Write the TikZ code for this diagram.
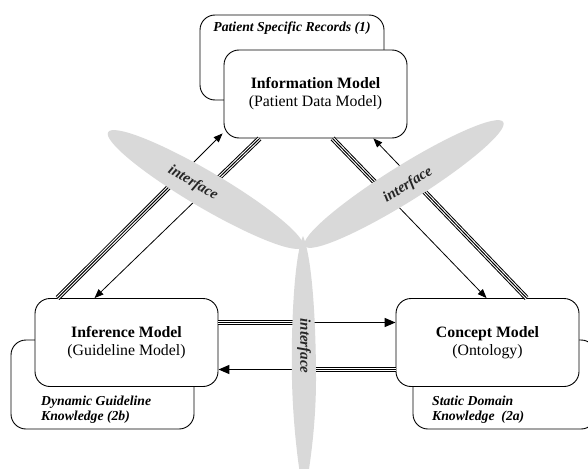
\documentclass[tikz,border=0pt]{standalone}
\usepackage{fontspec}
\setmainfont{Liberation Serif}
\usetikzlibrary{shapes.geometric,arrows.meta,calc}

\tikzset{
  model/.style={draw, fill=white, rounded corners=15pt, line width=0.9pt,
    minimum width=183pt, minimum height=88pt, inner sep=0pt, align=center,
    font=\fontsize{15.8}{18}\selectfont},
  backbox/.style={draw, fill=white, rounded corners=15pt, line width=0.9pt,
    minimum width=183pt, minimum height=89pt, inner sep=0pt},
  note/.style={font=\fontsize{13.7}{15.5}\selectfont\bfseries\itshape,
    align=left, inner sep=0pt},
  blade/.style={ellipse, fill=black!15, inner sep=0pt},
  iface/.style={font=\fontsize{15}{15}\selectfont\bfseries\itshape,
    text=black!85, inner sep=0pt},
  triple/.style={line width=1pt, preaction={draw, line width=5.2pt},
    preaction={draw, white, line width=3.2pt}},
  flow/.style={line width=0.8pt, -{Triangle[length=9pt,width=7pt]}},
  hflow/.style={line width=1.5pt, -{Triangle[length=11pt,width=9pt]}},
}

\begin{document}
\begin{tikzpicture}[x=1pt, y=-1pt]
    \useasboundingbox (0,0) rectangle (588,468);

    % knowledge boxes behind the models
    \node[backbox, minimum width=184pt, minimum height=85pt] (psr) at (292,57.5) {};
    \node[backbox] (dgk) at (102.5,384.5) {};
    \node[backbox] (sdk) at (504.5,384.5) {};
    \node[note] (psrtxt) at (292,28) {Patient Specific Records (1)};
    \node[note, anchor=west] (dgktxt) at (41,409.5) {Dynamic Guideline\\Knowledge (2b)};
    \node[note, anchor=west] (sdktxt) at (432,409.5) {Static Domain\\Knowledge\ \ (2a)};

    % models
    \node[model] (info) at (315.5,94) {\textbf{Information Model}\\(Patient Data Model)};
    \node[model] (inf) at (126.5,342.5) {\textbf{Inference Model}\\(Guideline Model)};
    \node[model] (con) at (487.5,342.5) {\textbf{Concept Model}\\(Ontology)};

    % link ends
    \coordinate (a0) at ($(info.south west)+(36,0)$);
    \coordinate (a1) at ($(inf.north west)+(60,0)$);
    \coordinate (b0) at ($(inf.north west)+(23,0)$);
    \coordinate (b1) at ($(info.south west)+(-1,-5)$);
    \coordinate (c0) at ($(info.south west)+(109,0)$);
    \coordinate (c1) at ($(con.north west)+(91,0)$);
    \coordinate (d0) at ($(con.north west)+(131,0)$);
    \coordinate (d1) at ($(info.south east)+(-34,0)$);
    \coordinate (e0) at ($(inf.east)+(0,-20)$);
    \coordinate (e1) at ($(con.west)+(0,-20)$);
    \coordinate (f0) at ($(con.west)+(0,27)$);
    \coordinate (f1) at ($(inf.east)+(0,27)$);

    % triple line up to the interface, arrow after it
    \foreach \s/\t/\f in {a0/a1/0.325, b0/b1/0.745, c0/c1/0.373, d0/d1/0.747} {
        \draw[flow] (\s) -- (\t);
        \draw[triple] (\s) -- ($(\s)!\f!(\t)$);
    }
    \foreach \s/\t in {e0/e1, f0/f1} {
        \draw[hflow] (\s) -- (\t);
        \draw[triple] (\s) -- ($(\s)!0.5!(\t)$);
    }

    % interface blades
    \node[blade, minimum width=226pt, minimum height=36pt, rotate=-30.5] (lbl) at (205.5,189.5) {};
    \node[blade, minimum width=234pt, minimum height=36pt, rotate=32] (rbl) at (404,184) {};
    \fill[black!15] (303,236) .. controls (293,260) and (291,340) .. (292,380)
        .. controls (293,430) and (300,480) .. (304,495)
        .. controls (308,480) and (316,430) .. (316,380)
        .. controls (316,330) and (313,260) .. (303,236) -- cycle;

    \node[iface, rotate=-30.5] (ifl) at (193,183) {interface};
    \node[iface, rotate=32] (ifr) at (408,185) {interface};
    \node[iface, rotate=-90] (ifb) at (304,346) {interface};
\end{tikzpicture}
\end{document}
